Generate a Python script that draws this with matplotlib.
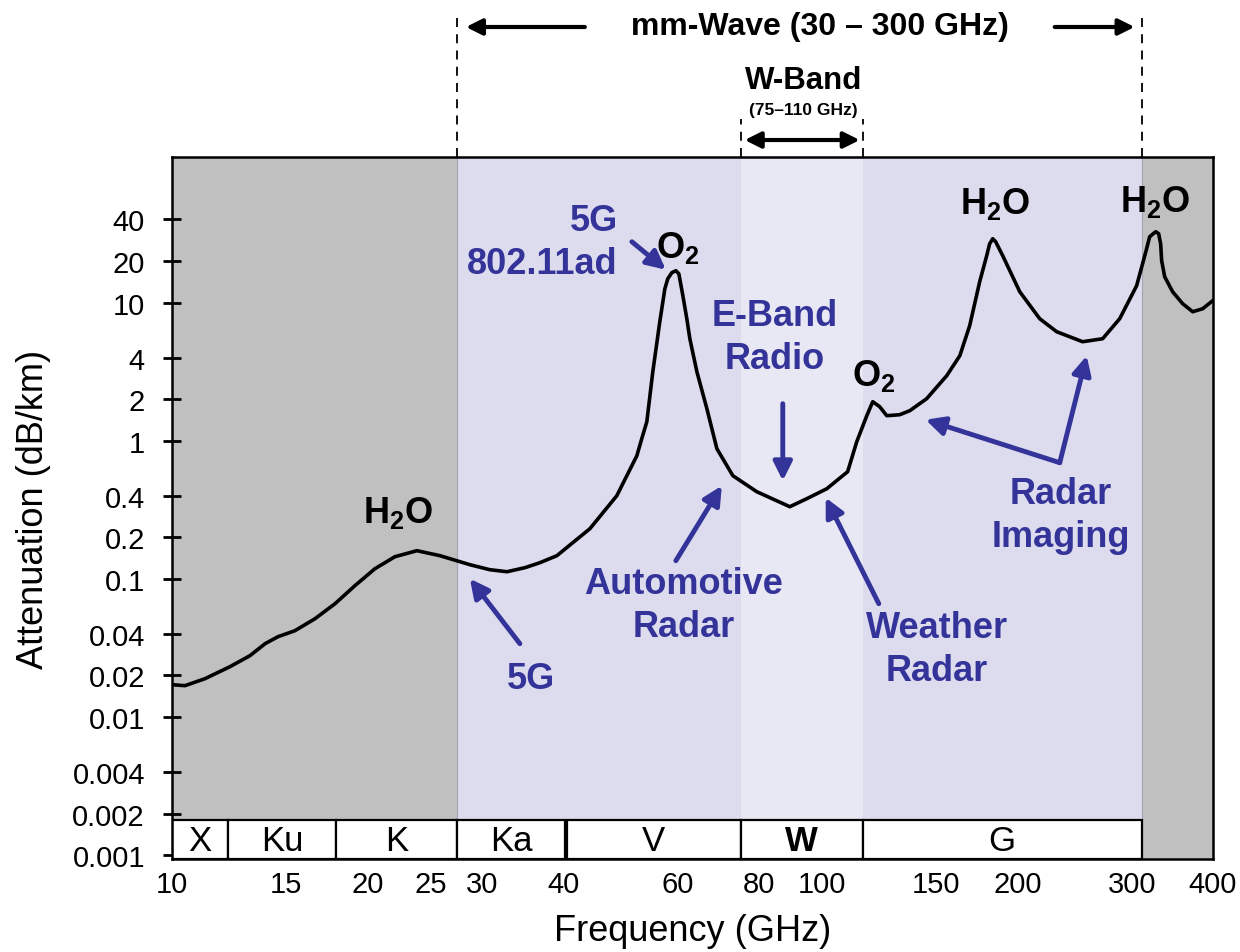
import matplotlib
matplotlib.use('Agg')
import matplotlib.pyplot as plt
import matplotlib.transforms as mtransforms
from matplotlib import font_manager
from matplotlib.ticker import NullLocator

plt.rcParams['font.family'] = ['Liberation Sans', 'DejaVu Sans']
plt.rcParams['mathtext.fontset'] = 'custom'
plt.rcParams['mathtext.rm'] = 'Liberation Sans'
plt.rcParams['mathtext.bf'] = 'Liberation Sans:bold'

# --- atmospheric attenuation curve ---
freq = [10.0, 10.47, 11.24, 12.28, 13.18, 13.91, 14.56, 15.46, 16.60, 17.82,
        19.12, 20.53, 22.03, 23.82, 25.85, 28.74, 30.83, 32.77, 34.92, 36.83,
        39.11, 43.97, 48.37, 51.93, 52.84, 53.80, 54.95, 56.33, 57.35, 57.95,
        58.77, 59.63, 60.26, 61.13, 61.99, 62.66, 64.24, 66.56, 68.96, 72.98,
        79.43, 89.29, 94.83, 101.8, 109.6, 113.2, 117.3, 119.8, 122.8, 125.9,
        131.8, 136.6, 145.0, 155.7, 163.1, 168.9, 175.0, 179.4, 181.3, 183.3,
        185.2, 189.9, 201.7, 216.5, 229.9, 252.0, 270.6, 287.4, 305.2, 316.2,
        319.6, 326.5, 330.0, 332.3, 333.5, 337.1, 346.7, 359.3, 372.3, 385.7,
        399.5]
atten = [0.01716, 0.01688, 0.01896, 0.02316, 0.02781, 0.03398, 0.03818, 0.04219, 0.05152, 0.06614,
         0.08929, 0.1185, 0.1447, 0.160, 0.1472, 0.1267, 0.1166, 0.1127, 0.1205, 0.1310,
         0.1472, 0.2308, 0.400, 0.7786, 1.034, 1.373, 3.157, 7.262, 12.59, 14.87,
         16.43, 16.99, 16.16, 11.20, 7.634, 5.472, 3.157, 1.704, 0.8752, 0.558,
         0.4275, 0.333, 0.3805, 0.4494, 0.5966, 0.9835, 1.517, 1.915, 1.762, 1.517,
         1.542, 1.649, 2.013, 2.953, 4.122, 6.794, 14.14, 21.81, 26.64, 28.95,
         27.54, 21.81, 11.97, 7.634, 6.149, 5.204, 5.472, 7.634, 13.23, 24.51,
         29.93, 32.53, 31.47, 26.64, 20.07, 15.37, 11.97, 9.80, 8.579, 9.02,
         10.30]

x_ticks = [10, 15, 20, 25, 30, 40, 60, 80, 100, 150, 200, 300, 400]
y_ticks = [0.001, 0.002, 0.004, 0.01, 0.02, 0.04, 0.1, 0.2, 0.4, 1, 2, 4, 10, 20, 40]
y_labels = ['0.001', '0.002', '0.004', '0.01', '0.02', '0.04', '0.1', '0.2', '0.4',
            '1', '2', '4', '10', '20', '40']

# letter bands shown in the boxes along the bottom
band_names = ['X', 'Ku', 'K', 'Ka', 'V', 'W', 'G']
band_lo = [10, 12.2, 17.9, 27.5, 40.5, 75, 115.6]
band_hi = [12.2, 17.9, 27.5, 40.2, 75, 115.6, 310.7]

mmwave = (27.5, 310.7)   # shaded mm-wave region as drawn
wband = (75, 115.6)      # shaded W-band region as drawn

blue = '#333399'
gray = '#c0c0c0'
lavender = '#dcdcee'
light = '#e8e8f4'

names = {f.name for f in font_manager.fontManager.ttflist}
has_narrow = 'Liberation Sans Narrow' in names

fig = plt.figure(figsize=(12.4, 9.53), dpi=100)
ax = fig.add_axes([0.1387, 0.0976, 0.8395, 0.7366])
ax.set_xscale('log')
ax.set_yscale('log')
ax.set_xlim(10, 400)
ax.set_ylim(0.00094, 113)

# background regions
ax.axvspan(10, mmwave[0], color=gray, lw=0, zorder=0)
ax.axvspan(mmwave[1], 400, color=gray, lw=0, zorder=0)
ax.axvspan(mmwave[0], mmwave[1], color=lavender, lw=0, zorder=0)
ax.axvspan(wband[0], wband[1], color=light, lw=0, zorder=0)
for xv in mmwave:
    ax.axvline(xv, color='#a4a4b8', lw=0.8, zorder=0.5)

ax.plot(freq, atten, color='black', lw=2.6, zorder=3, solid_joinstyle='round')

# band boxes
for name, lo, hi in zip(band_names, band_lo, band_hi):
    ax.axvspan(lo, hi, ymin=0, ymax=0.055, facecolor='white', edgecolor='black', lw=1.6, zorder=4)
    xc = (lo * hi) ** 0.5
    ax.text(xc, 0.027, name, transform=mtransforms.blended_transform_factory(ax.transData, ax.transAxes),
            ha='center', va='center', fontsize=25,
            fontweight='bold' if name == 'W' else 'normal', zorder=5)

# axes styling
for sp in ax.spines.values():
    sp.set_linewidth(1.8)
    sp.set_zorder(6)
ax.set_xticks(x_ticks)
ax.set_xticklabels([str(t) for t in x_ticks])
ax.set_yticks(y_ticks)
ax.set_yticklabels(y_labels)
ax.xaxis.set_minor_locator(NullLocator())
ax.yaxis.set_minor_locator(NullLocator())
ax.tick_params(axis='x', length=0, pad=8, labelsize=21)
ax.tick_params(axis='y', direction='inout', length=13, width=2, pad=13, labelsize=21)
ax.set_xlabel('Frequency (GHz)', fontsize=26, labelpad=11)
ax.set_ylabel('Attenuation (dB/km)', fontsize=26, labelpad=15)


def arrow(tail, head, color=blue, lw=3.5, ms=28, coords='data'):
    ax.annotate('', xy=head, xytext=tail, xycoords=coords, textcoords=coords,
                annotation_clip=False,
                arrowprops=dict(arrowstyle='-|>', color=color, lw=lw,
                                mutation_scale=ms, shrinkA=0, shrinkB=0), zorder=5)


tb = dict(fontsize=26, fontweight='bold', ha='center', va='center')

# black molecule labels
ax.text(22.27, 0.3064, r'H$_\mathbf{2}$O', **tb)
ax.text(60.04, 25.34, r'O$_\mathbf{2}$', **tb)
ax.text(120.2, 3.003, r'O$_\mathbf{2}$', **tb)
ax.text(184.6, 52.74, r'H$_\mathbf{2}$O', **tb)
ax.text(325.3, 54.53, r'H$_\mathbf{2}$O', **tb)

# blue application labels
ax.text(35.67, 0.01896, '5G', color=blue, **tb)
arrow((34.31, 0.03398), (28.74, 0.1003))

ax.text(61.34, 0.0651, 'Automotive\nRadar', color=blue, linespacing=1.3, **tb)
arrow((59.63, 0.1354), (70.18, 0.4724))

ax.text(48.55, 27.54, '5G\n802.11ad', color=blue, fontsize=26, fontweight='bold',
        ha='right', va='center', multialignment='right', linespacing=1.3)
arrow((51.02, 27.54), (57.54, 17.28))

ax.text(84.67, 5.656, 'E-Band\nRadio', color=blue, linespacing=1.3, **tb)
arrow((87.1, 1.853), (87.1, 0.5135))

ax.text(150.3, 0.03126, 'Weather\nRadar', color=blue, linespacing=1.3, **tb)
arrow((122.4, 0.06614), (101.4, 0.3869))

ax.text(233.2, 0.2914, 'Radar\nImaging', color=blue, linespacing=1.3, **tb)
arrow((232.4, 0.6932), (144.5, 1.419))
arrow((232.4, 0.6932), (255.7, 4.121))

# top annotations (above the axes)
blend = mtransforms.blended_transform_factory(ax.transData, ax.transAxes)
for xv in mmwave:
    ax.plot([xv, xv], [1.0, 1.205], transform=blend, clip_on=False,
            color='black', lw=1.3, ls=(0, (5, 4)))
for xv in wband:
    ax.plot([xv, xv], [1.0, 1.054], transform=blend, clip_on=False,
            color='black', lw=1.3, ls=(0, (5, 4)))

if has_narrow:
    ax.text(99.3, 1.1866, 'mm-Wave (30 \u2013 300 GHz)', transform=blend, fontsize=26,
            fontweight='bold', family='Liberation Sans Narrow', ha='center', va='center')
    ax.text(93.8, 1.1097, 'W-Band', transform=blend, fontsize=27,
            fontweight='bold', family='Liberation Sans Narrow', ha='center', va='center')
else:
    ax.text(99.3, 1.1866, 'mm-Wave (30 \u2013 300 GHz)', transform=blend, fontsize=23,
            fontweight='bold', ha='center', va='center')
    ax.text(93.8, 1.1097, 'W-Band', transform=blend, fontsize=22.5,
            fontweight='bold', ha='center', va='center')
ax.text(93.8, 1.067, '(75\u2013110 GHz)', transform=blend, fontsize=12.5,
        fontweight='bold', ha='center', va='center')

arrow((43.19, 1.1852), (28.34, 1.1852), color='black', lw=3, ms=24, coords=blend)
arrow((228.3, 1.1852), (303.0, 1.1852), color='black', lw=3, ms=24, coords=blend)
ax.annotate('', xy=(114.4, 1.0242), xytext=(76.1, 1.0242), xycoords=blend, textcoords=blend,
            annotation_clip=False,
            arrowprops=dict(arrowstyle='<|-|>', color='black', lw=3, mutation_scale=24,
                            shrinkA=0, shrinkB=0))

fig.savefig('out.png', dpi=100)
